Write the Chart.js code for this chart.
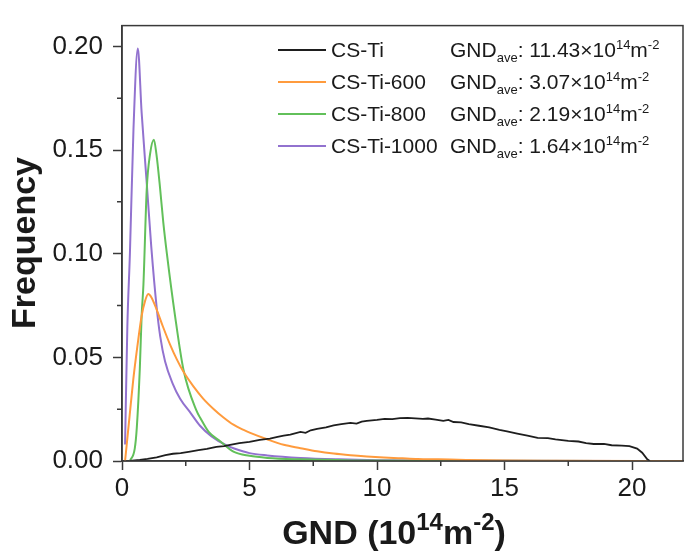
<!DOCTYPE html>
<html>
<head>
<meta charset="utf-8">
<script src="https://cdn.jsdelivr.net/npm/chart.js@4/dist/chart.umd.min.js"></script>
<style>
  body { margin: 0; background: #fff; }
  #wrap { width: 689px; height: 556px; }
</style>
</head>
<body>
<div id="wrap"><canvas id="gndChart" width="689" height="556"></canvas></div>
<script>
// series names and average GND values shown in the legend
const seriesNames = ['CS-Ti', 'CS-Ti-600', 'CS-Ti-800', 'CS-Ti-1000'];
const gndAve = ['11.43', '3.07', '2.19', '1.64'];
const seriesColors = ['#1e1e1e', '#ff9b3d', '#62c05a', '#9272cf'];

// CS-Ti (as sprayed) - broad, noisy distribution
const csTiX = [0.3, 0.7, 1.0, 1.36, 1.7, 2.0, 2.3, 2.67, 3.0, 3.33, 3.7, 4.0, 4.24, 4.6, 5.0, 5.4, 5.8, 6.1, 6.34, 6.6,
  7.0, 7.2, 7.4, 7.65, 8.0, 8.3, 8.6, 8.96, 9.2, 9.4, 9.6, 10.0, 10.3, 10.6, 10.9, 11.2, 11.5, 11.8, 12.0, 12.3,
  12.6, 12.8, 13.0, 13.3, 13.6, 14.0, 14.4, 14.8, 15.1, 15.5, 15.9, 16.3, 16.7, 17.0, 17.5, 17.9, 18.2, 18.5, 18.9, 19.2,
  19.6, 19.9, 20.2, 20.4, 20.6, 20.7];
const csTiY = [0, 0.0005, 0.001, 0.0018, 0.0028, 0.0035, 0.0038, 0.0045, 0.0052, 0.0058, 0.0068, 0.0072, 0.0078, 0.0086, 0.0092, 0.0102, 0.0108, 0.0116, 0.0122, 0.0127,
  0.0140, 0.0136, 0.0148, 0.0155, 0.0162, 0.0172, 0.0178, 0.0184, 0.0180, 0.0190, 0.0194, 0.0198, 0.0203, 0.0202, 0.0207, 0.0208, 0.0206, 0.0203, 0.0205, 0.0200,
  0.0194, 0.0198, 0.0188, 0.0186, 0.0178, 0.0170, 0.0162, 0.0150, 0.0143, 0.0132, 0.0122, 0.0112, 0.0110, 0.0104, 0.0097, 0.0094, 0.0086, 0.0082, 0.0083, 0.0076,
  0.0074, 0.0072, 0.0060, 0.0040, 0.0008, 0];

// CS-Ti-600
const ti600X = [0.12, 0.3, 0.44, 0.6, 0.77, 0.9, 1.03, 1.15, 1.36, 1.6, 1.89, 2.15, 2.41, 2.8, 3.19, 3.6, 3.98, 4.37, 4.77, 5.03,
  5.69, 6.34, 7.0, 7.65, 8.3, 8.96, 9.6, 10.27, 11.0, 11.6, 12.4, 13.5, 15.0, 17.0, 22.0];
const ti600Y = [0, 0.022, 0.039, 0.055, 0.070, 0.077, 0.0805, 0.079, 0.073, 0.065, 0.056, 0.049, 0.043, 0.036, 0.030, 0.025, 0.021, 0.0175, 0.0150, 0.0136,
  0.0105, 0.0078, 0.0062, 0.0047, 0.0036, 0.0028, 0.0022, 0.0017, 0.0013, 0.0010, 0.0008, 0.0005, 0.0002, 0.0001, 0];

// CS-Ti-800
const ti800X = [0.31, 0.5, 0.58, 0.7, 0.77, 0.84, 0.97, 1.1, 1.25, 1.35, 1.49, 1.62, 1.76, 2.08, 2.41, 2.93, 3.06, 3.4, 3.85, 4.37,
  5.0, 5.7, 7.0, 9.0, 12.0, 22.0];
const ti800Y = [0, 0.006, 0.016, 0.045, 0.070, 0.085, 0.131, 0.148, 0.155, 0.148, 0.132, 0.115, 0.100, 0.070, 0.044, 0.024, 0.021, 0.014, 0.0095, 0.0045,
  0.0025, 0.0015, 0.0008, 0.0003, 0.0001, 0];

// CS-Ti-1000
const ti1000X = [0.12, 0.21, 0.31, 0.45, 0.62, 0.77, 0.97, 1.15, 1.36, 1.5, 1.69, 2.0, 2.28, 2.7, 3.06, 3.5, 4.1, 4.4, 5.0,
  5.7, 7.0, 8.5, 10.0, 12.0, 15.0, 22.0];
const ti1000Y = [0.008, 0.065, 0.100, 0.160, 0.199, 0.168, 0.134, 0.103, 0.074, 0.060, 0.048, 0.037, 0.030, 0.023, 0.017, 0.012, 0.0075, 0.006, 0.0038,
  0.0027, 0.0015, 0.0008, 0.0004, 0.0002, 0.0001, 0];

// axis ticks
const xTicks = [0, 5, 10, 15, 20];
const xMinorTicks = [2.5, 7.5, 12.5, 17.5];
const yTicks = [0, 0.05, 0.10, 0.15, 0.20];
const yMinorTicks = [0.025, 0.075, 0.125, 0.175];

const FONT = '"Liberation Sans", Arial, sans-serif';
const textColor = '#1a1a1a';
const frameColor = '#3a3a3a';

function toPoints(xs, ys) {
    return xs.map((x, i) => ({ x: x, y: ys[i] }));
}

const seriesData = [
    toPoints(csTiX, csTiY),
    toPoints(ti600X, ti600Y),
    toPoints(ti800X, ti800Y),
    toPoints(ti1000X, ti1000Y)
];

// draws text made of normal / sup / sub pieces
function drawRich(ctx, parts, x, y, size, weight, align, supScale) {
    const fontFor = p => `${weight} ${p[1] === 'n' ? size : Math.round(size * supScale)}px ${FONT}`;
    let width = 0;
    parts.forEach(p => { ctx.font = fontFor(p); width += ctx.measureText(p[0]).width; });
    let cx = align === 'center' ? x - width / 2 : x;
    ctx.textAlign = 'left';
    ctx.textBaseline = 'alphabetic';
    parts.forEach(p => {
        ctx.font = fontFor(p);
        let dy = 0;
        if (p[1] === 'sup') dy = -size * 0.4;
        if (p[1] === 'sub') dy = size * 0.22;
        ctx.fillText(p[0], cx, y + dy);
        cx += ctx.measureText(p[0]).width;
    });
}

const decorPlugin = {
    id: 'decor',
    afterDraw(chart) {
        const { ctx, chartArea: a, scales } = chart;
        const x = scales.x, y = scales.y;
        ctx.save();

        // box around the plot
        ctx.strokeStyle = frameColor;
        ctx.lineWidth = 1.5;
        ctx.strokeRect(a.left, a.top, a.right - a.left, a.bottom - a.top);

        // minor ticks
        ctx.beginPath();
        xMinorTicks.forEach(v => {
            const px = x.getPixelForValue(v);
            ctx.moveTo(px, a.bottom);
            ctx.lineTo(px, a.bottom + 5);
        });
        yMinorTicks.forEach(v => {
            const py = y.getPixelForValue(v);
            ctx.moveTo(a.left - 5, py);
            ctx.lineTo(a.left, py);
        });
        ctx.stroke();

        ctx.fillStyle = textColor;

        // x axis title
        drawRich(ctx, [['GND (10', 'n'], ['14', 'sup'], ['m', 'n'], ['-2', 'sup'], [')', 'n']],
            394, 544, 34, 'bold', 'center', 0.72);

        // y axis title
        ctx.save();
        ctx.translate(26, 243);
        ctx.rotate(-Math.PI / 2);
        ctx.font = `bold 34px ${FONT}`;
        ctx.textAlign = 'center';
        ctx.textBaseline = 'middle';
        ctx.fillText('Frequency', 0, 0);
        ctx.restore();

        // legend
        const lx = 278, lineLen = 48, rowGap = 32, top = 50;
        seriesNames.forEach((name, i) => {
            const ly = top + i * rowGap;
            ctx.strokeStyle = seriesColors[i];
            ctx.lineWidth = 2;
            ctx.beginPath();
            ctx.moveTo(lx, ly);
            ctx.lineTo(lx + lineLen, ly);
            ctx.stroke();
            ctx.fillStyle = textColor;
            drawRich(ctx, [[name, 'n']], lx + 53, ly + 7, 21, 'normal', 'left', 1);
            drawRich(ctx, [['GND', 'n'], ['ave', 'sub'], [': ' + gndAve[i] + '\u00d710', 'n'], ['14', 'sup'], ['m', 'n'], ['-2', 'sup']],
                lx + 172, ly + 7, 21, 'normal', 'left', 0.6);
        });

        ctx.restore();
    }
};

const ctx = document.getElementById('gndChart').getContext('2d');
const gndChart = new Chart(ctx, {
    type: 'line',
    data: {
        datasets: seriesNames.map((name, i) => ({
            label: name,
            data: seriesData[i],
            borderColor: seriesColors[i],
            borderWidth: i === 0 ? 1.8 : 2,
            pointRadius: 0,
            fill: false,
            tension: 0,
            cubicInterpolationMode: i === 0 ? 'default' : 'monotone'
        }))
    },
    options: {
        responsive: false,
        animation: false,
        devicePixelRatio: 1,
        layout: { padding: { top: 5, right: 6, left: 0, bottom: 0 } },
        plugins: {
            legend: { display: false },
            tooltip: { enabled: false }
        },
        scales: {
            x: {
                type: 'linear',
                min: 0,
                max: 22,
                afterBuildTicks: s => { s.ticks = xTicks.map(v => ({ value: v })); },
                afterFit: s => { s.height = 95; },
                grid: { drawOnChartArea: false, tickLength: 9, color: frameColor, tickWidth: 1.5 },
                border: { display: true, color: frameColor, width: 1.5 },
                ticks: {
                    color: textColor,
                    padding: 3,
                    maxRotation: 0,
                    font: { family: FONT, size: 26 },
                    callback: v => String(v)
                }
            },
            y: {
                min: 0,
                max: 0.21,
                afterBuildTicks: s => { s.ticks = yTicks.map(v => ({ value: v })); },
                afterFit: s => { s.width = 122; },
                grid: { drawOnChartArea: false, tickLength: 9, color: frameColor, tickWidth: 1.5 },
                border: { display: true, color: frameColor, width: 1.5 },
                ticks: {
                    color: textColor,
                    padding: 10,
                    font: { family: FONT, size: 26 },
                    callback: v => Number(v).toFixed(2)
                }
            }
        }
    },
    plugins: [decorPlugin]
});
</script>
</body>
</html>
